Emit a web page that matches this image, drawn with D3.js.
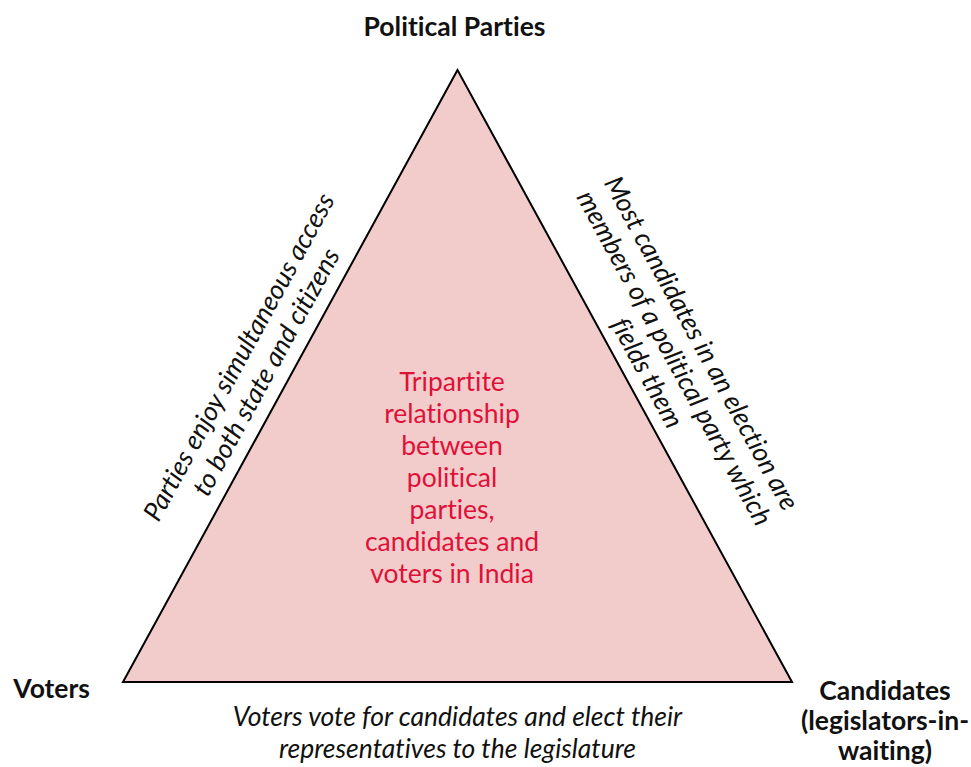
<!DOCTYPE html>
<html>
<head>
<meta charset="utf-8">
<script src="https://cdn.jsdelivr.net/npm/d3@7"></script>
<style>
  body { margin: 0; background: #fff; }
  svg { font-family: Lato, "Open Sans", sans-serif; font-variant-ligatures: none; }
</style>
</head>
<body>
<div class="diagram"></div>
<script>
// Nodes of the triangle (unit coordinates, apex on top).
const nodeNames = ['Political Parties', 'Voters', 'Candidates'];
const nodeX = [0.5, 0, 1];
const nodeY = [1, 0, 0];

// Vertex labels, one entry per line.
const partyLabel = ['Political Parties'];
const voterLabel = ['Voters'];
const candidateLabel = ['Candidates', '(legislators-in-', 'waiting)'];

// Edge labels, from -> to node index.
const edgeFrom = [1, 0, 1];
const edgeTo = [0, 2, 2];
const edgeLines = [
    ['Parties enjoy simultaneous access', 'to both state and citizens'],
    ['Most candidates in an election are', 'members of a political party which', 'fields them'],
    ['Voters vote for candidates and elect their', 'representatives to the legislature']
];

const centerLines = ['Tripartite', 'relationship', 'between', 'political', 'parties,', 'candidates and', 'voters in India'];

const width = 971;
const height = 767;
const fontSize = 26.5;
const lineHeight = 31;

const svg = d3.select('.diagram')
    .append('svg')
    .attr('width', width)
    .attr('height', height);

const x = d3.scaleLinear().domain([0, 1]).range([123, 792]);
const y = d3.scaleLinear().domain([0, 1]).range([682, 70]);

const points = nodeNames.map((n, i) => [x(nodeX[i]), y(nodeY[i])]);

// Triangle
svg.append('path')
    .datum(points)
    .attr('d', d => d3.line()(d) + 'Z')
    .attr('fill', '#f2cbcb')
    .attr('stroke', '#000')
    .attr('stroke-width', 2)
    .attr('stroke-linejoin', 'miter');

// Centre text
svg.append('g')
    .selectAll('text')
    .data(centerLines)
    .join('text')
    .attr('x', 452)
    .attr('y', (d, i) => 391 + i * 32)
    .attr('text-anchor', 'middle')
    .attr('font-size', fontSize)
    .attr('fill', '#df1138')
    .text(d => d);

// Vertex labels
function drawLabel(lines, px, py, anchor) {
    svg.append('g')
        .selectAll('text')
        .data(lines)
        .join('text')
        .attr('x', px)
        .attr('y', (d, i) => py + i * 30)
        .attr('text-anchor', anchor)
        .attr('font-size', fontSize)
        .attr('font-weight', 'bold')
        .attr('fill', '#111')
        .text(d => d);
}
drawLabel(partyLabel, points[0][0] - 3, 36, 'middle');
drawLabel(voterLabel, 90, 698, 'end');
drawLabel(candidateLabel, 885, 700, 'middle');

// Edge labels: rotated along the two slanted sides
const edgeOffsets = [
    {along: -8, base: -14},
    {along: 8, base: -12},
    {along: 0, base: 0}
];

edgeLines.forEach((lines, k) => {
    const a = points[edgeFrom[k]];
    const b = points[edgeTo[k]];
    const mx = (a[0] + b[0]) / 2;
    const my = (a[1] + b[1]) / 2;
    const angle = Math.atan2(b[1] - a[1], b[0] - a[0]) * 180 / Math.PI;
    const off = edgeOffsets[k];
    const n = lines.length;

    let g;
    if (k === 2) {
        // bottom edge: text below the base line
        g = svg.append('g')
            .attr('transform', `translate(${mx}, 726)`);
        g.selectAll('text')
            .data(lines)
            .join('text')
            .attr('x', 0)
            .attr('y', (d, i) => i * 32)
            .attr('text-anchor', 'middle')
            .attr('font-size', fontSize)
            .attr('font-style', 'italic')
            .attr('fill', '#111')
            .text(d => d);
        return;
    }

    g = svg.append('g')
        .attr('transform', `translate(${mx}, ${my}) rotate(${angle})`);
    g.selectAll('text')
        .data(lines)
        .join('text')
        .attr('x', off.along)
        .attr('y', (d, i) => off.base - (n - 1 - i) * lineHeight)
        .attr('text-anchor', 'middle')
        .attr('font-size', fontSize)
        .attr('font-style', 'italic')
        .attr('fill', '#111')
        .text(d => d);
});
</script>
</body>
</html>
